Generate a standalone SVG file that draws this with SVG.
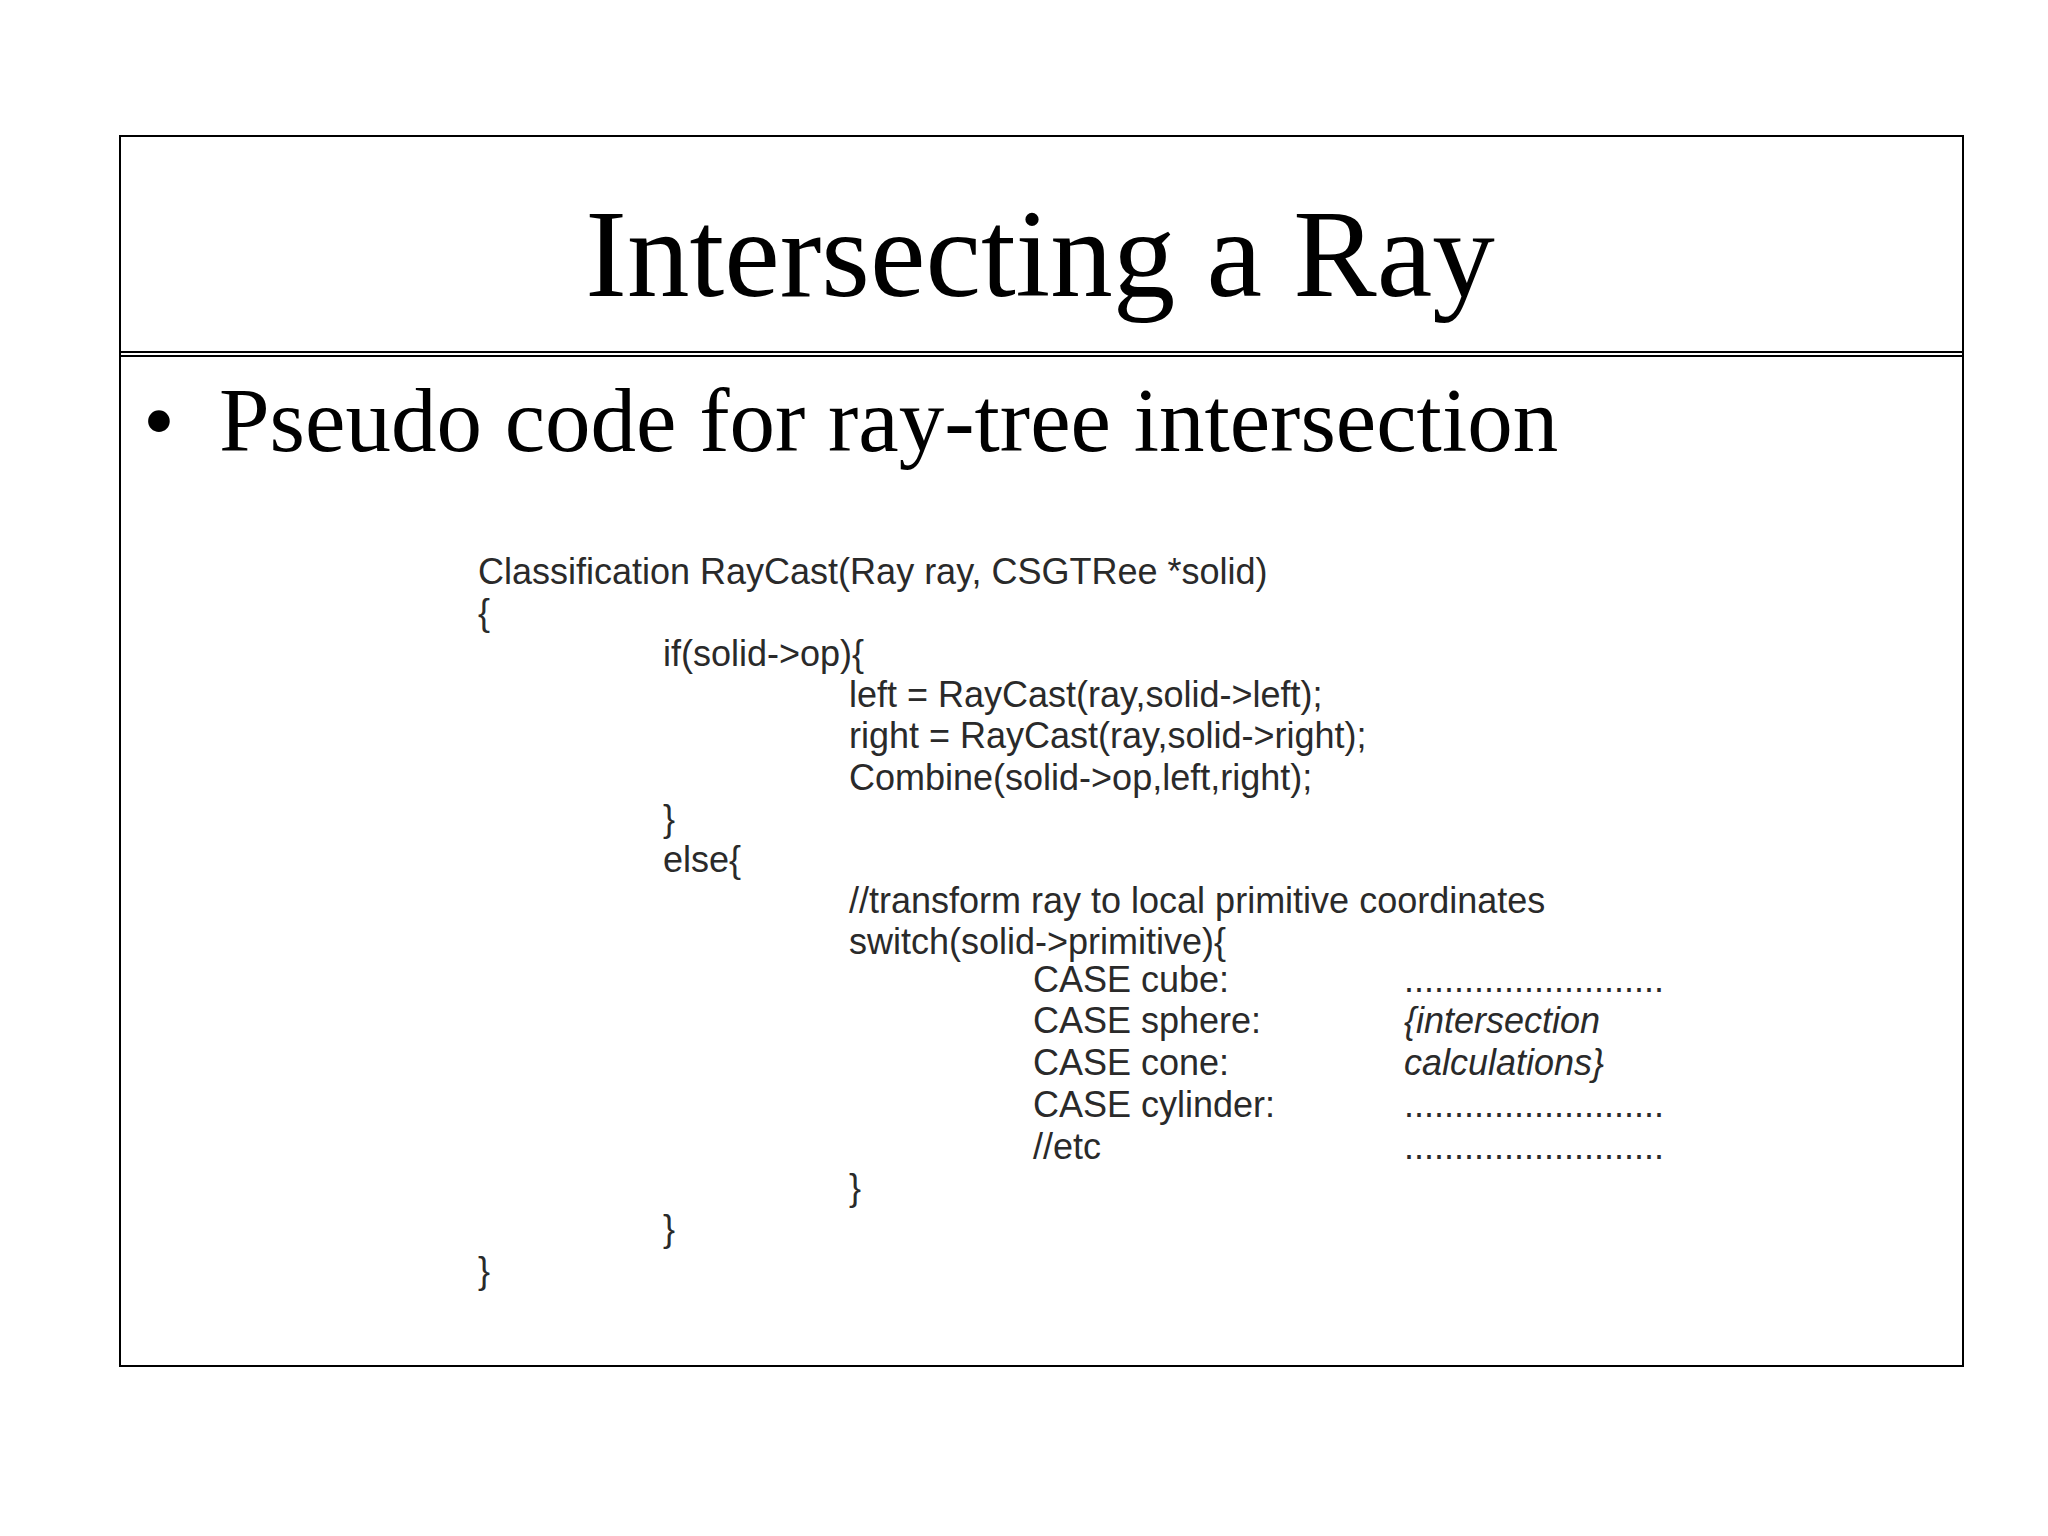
<svg xmlns="http://www.w3.org/2000/svg" width="2048" height="1536" viewBox="0 0 2048 1536">
<style>
.c{font-family:"Liberation Sans",Arial,sans-serif;font-size:36px;fill:#2a2a2a}
.i{font-style:italic}
</style>
<rect width="2048" height="1536" fill="#fff"/>
<g id="frame" fill="none" stroke="#000" stroke-width="2">
<rect x="120" y="136" width="1843" height="1230"/>
<line x1="120" y1="352" x2="1963" y2="352"/>
<line x1="120" y1="356" x2="1963" y2="356"/>
</g>
<g id="title"><text x="1040" y="296" text-anchor="middle" font-family="Liberation Serif,serif" font-size="125">Intersecting a Ray</text></g>
<g id="bullet" font-family="Liberation Serif,serif" font-size="91">
<text x="143" y="451">•</text><text x="219" y="451">Pseudo code for ray-tree intersection</text></g>
<g id="code" class="c">
<text x="478" y="584">Classification RayCast(Ray ray, CSGTRee *solid)</text>
<text x="478" y="625">{</text>
<text x="663" y="666">if(solid-&gt;op){</text>
<text x="849" y="707">left = RayCast(ray,solid-&gt;left);</text>
<text x="849" y="748">right = RayCast(ray,solid-&gt;right);</text>
<text x="849" y="790">Combine(solid-&gt;op,left,right);</text>
<text x="663" y="831">}</text>
<text x="663" y="872">else{</text>
<text x="849" y="913">//transform ray to local primitive coordinates</text>
<text x="849" y="954">switch(solid-&gt;primitive){</text>
<text x="1033" y="992">CASE cube:</text>
<text x="1033" y="1033">CASE sphere:</text>
<text x="1033" y="1075">CASE cone:</text>
<text x="1033" y="1117">CASE cylinder:</text>
<text x="1033" y="1159">//etc</text>
<text x="1404" y="992">..........................</text>
<text x="1404" y="1033" class="i">{intersection</text>
<text x="1404" y="1075" class="i">calculations}</text>
<text x="1404" y="1117">..........................</text>
<text x="1404" y="1159">..........................</text>
<text x="849" y="1200">}</text>
<text x="663" y="1241">}</text>
<text x="478" y="1283">}</text>
</g>
</svg>
